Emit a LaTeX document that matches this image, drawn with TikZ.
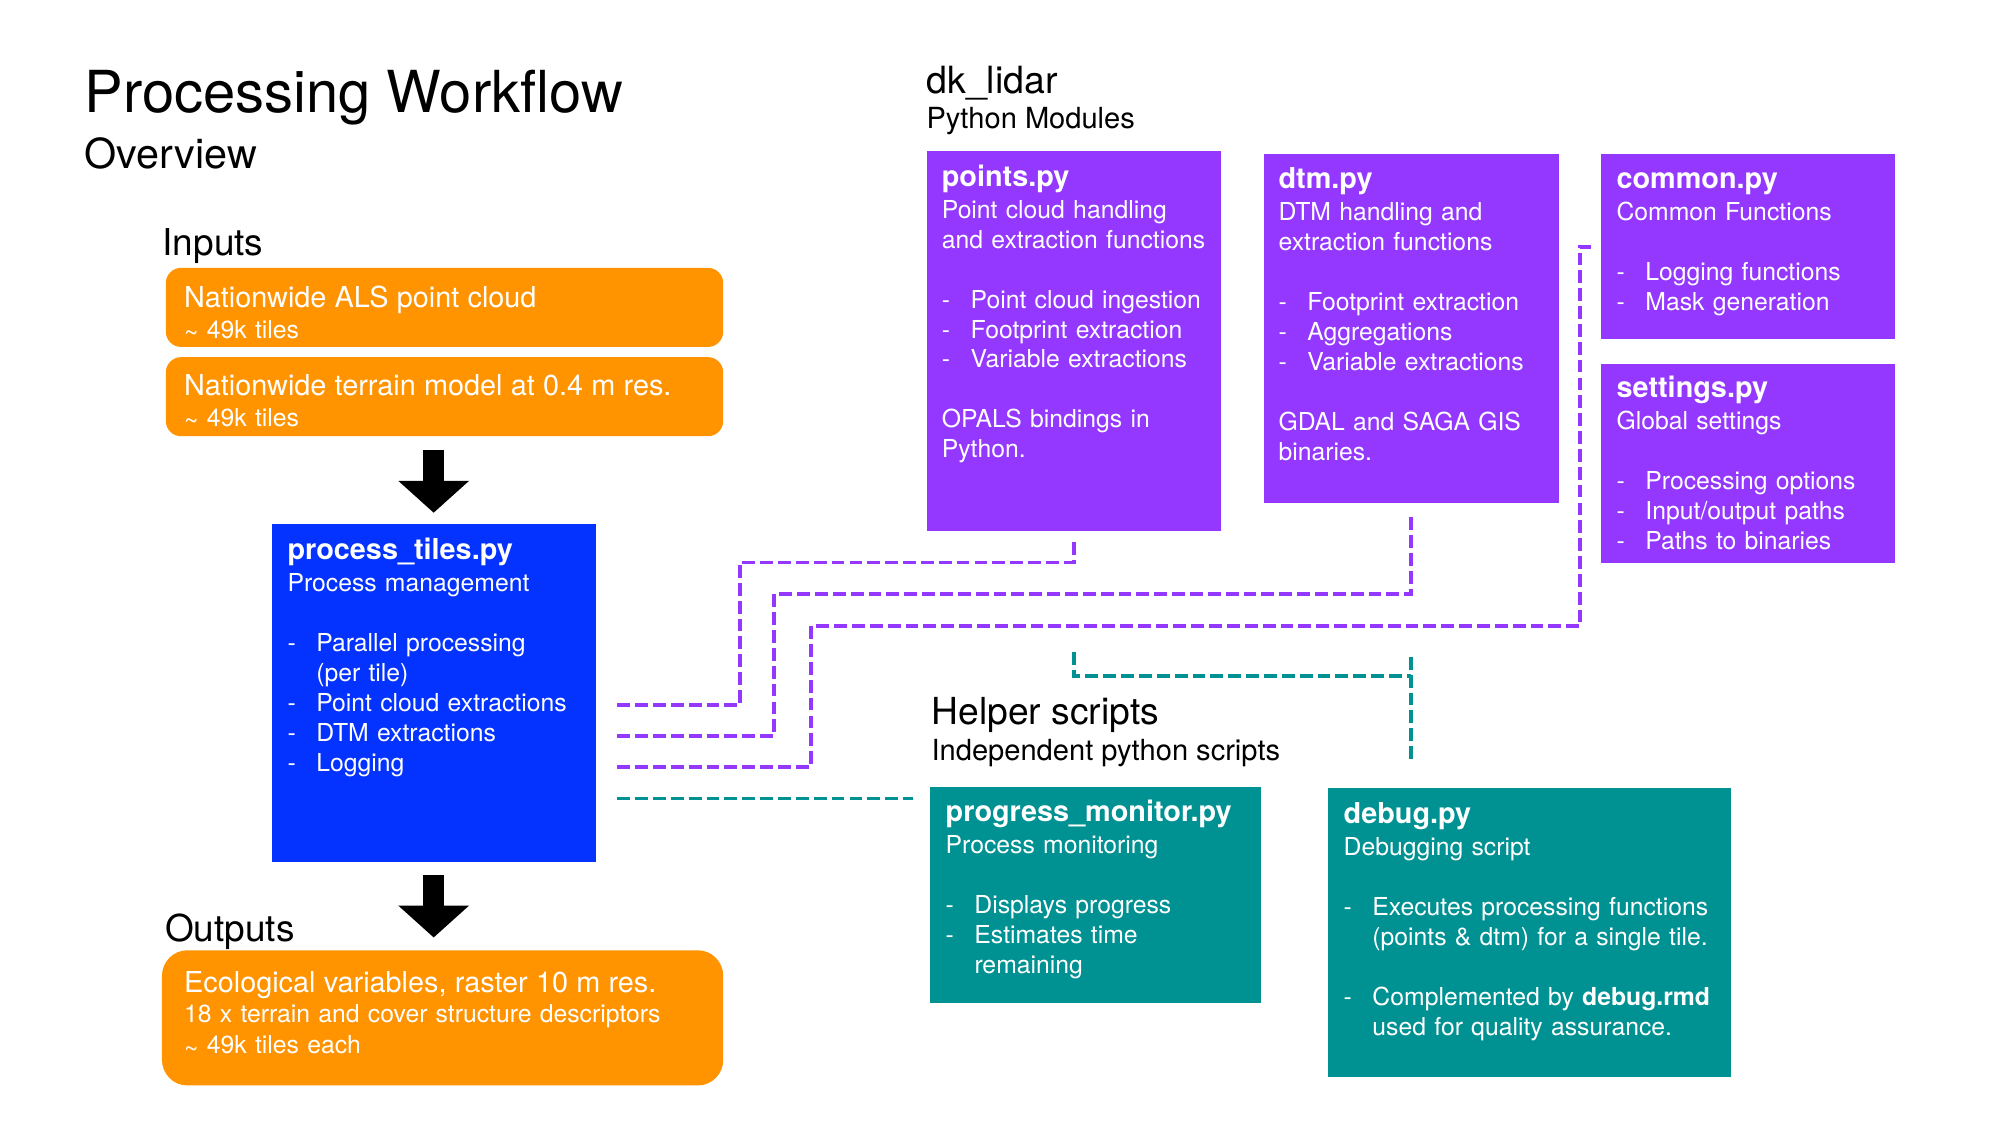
\documentclass[tikz,border=0pt]{standalone}
\usepackage{fontspec}
\setmainfont{TeX Gyre Heros}
\usetikzlibrary{arrows.meta}

\definecolor{iorange}{RGB}{255,147,0}
\definecolor{tilesblue}{RGB}{4,51,255}
\definecolor{modpurple}{RGB}{148,55,255}
\definecolor{helpteal}{RGB}{0,145,147}

\newcommand{\itm}{\makebox[11.3pt][l]{-}}
\newcommand{\ind}{\hspace*{11.3pt}}
\newcommand{\approxt}{\raisebox{-0.3ex}{\textasciitilde}}
\newcommand{\boxtitle}[1]{{\fontsize{11.3}{12}\selectfont\bfseries #1}}

\tikzset{
  box/.style={anchor=north west, inner sep=0pt, outer sep=0pt},
  inbox/.style={box, fill=iorange, rounded corners=6pt},
  modbox/.style={box, fill=modpurple},
  helpbox/.style={box, fill=helpteal},
  boxtext/.style={anchor=base west, inner sep=0pt, text=white, align=left,
    text width=200pt, font=\fontsize{9.7}{11.75}\selectfont},
  iotext/.style={boxtext, font=\fontsize{9.7}{12}\selectfont},
  heading/.style={anchor=base west, inner sep=0pt},
  blockarr/.style={line width=8pt, -{Triangle[length=12.5pt,width=27pt]}},
  moddash/.style={modpurple, line width=1.5pt, dash pattern=on 5pt off 2pt},
  helpdash/.style={helpteal, line width=1.5pt, dash pattern=on 5pt off 2pt}
}

\begin{document}
\begin{tikzpicture}[x=0.5pt,y=-0.5pt]
  \useasboundingbox (0,0) rectangle (1568,882);

  % headings
  \node[heading, font=\fontsize{22.7}{27}\selectfont] (title) at (66,88) {Processing Workflow};
  \node[heading, font=\fontsize{16.2}{19}\selectfont] (overview) at (66,132) {Overview};
  \node[heading, font=\fontsize{14.5}{17}\selectfont] (inlabel) at (127,200) {Inputs};
  \node[heading, font=\fontsize{14.5}{17}\selectfont] (outlabel) at (129,738) {Outputs};
  \node[heading, font=\fontsize{14.7}{17}\selectfont] (pkg) at (726,73) {dk\_lidar};
  \node[heading, font=\fontsize{11.4}{14}\selectfont] (pkgsub) at (726,101) {Python Modules};
  \node[heading, font=\fontsize{14.6}{17}\selectfont] (helper) at (730,568) {Helper scripts};
  \node[heading, font=\fontsize{11.4}{14}\selectfont] (helpersub) at (730,596) {Independent python scripts};

  % inputs and outputs
  \node[inbox, minimum width=218.5pt, minimum height=31pt] (inputs1) at (130,210) {};
  \node[iotext] (inputs1-txt) at ([shift={(14,31)}]inputs1.north west)
    {{\fontsize{11.3}{12}\selectfont Nationwide ALS point cloud}\\ \approxt{} 49k tiles};
  \node[inbox, minimum width=218.5pt, minimum height=31pt] (inputs2) at (130,280) {};
  \node[iotext] (inputs2-txt) at ([shift={(14,30)}]inputs2.north west)
    {{\fontsize{11.3}{12}\selectfont Nationwide terrain model at 0.4 m res.}\\ \approxt{} 49k tiles};
  \node[inbox, rounded corners=10pt, minimum width=220pt, minimum height=53pt] (outputs) at (127,745) {};
  \node[iotext] (outputs-txt) at ([shift={(17,33)}]outputs.north west)
    {{\fontsize{11.3}{12}\selectfont Ecological variables, raster 10 m res.}\\
     18 x terrain and cover structure descriptors\\ \approxt{} 49k tiles each};

  % process management
  \node[box, fill=tilesblue, minimum width=127pt, minimum height=132.5pt] (tiles) at (213,411) {};
  \node[boxtext] (tiles-txt) at ([shift={(12,28)}]tiles.north west)
    {\boxtitle{process\_tiles.py}\\[0.75pt] Process management\\[11.75pt]
     \itm Parallel processing\\ \ind(per tile)\\ \itm Point cloud extractions\\
     \itm DTM extractions\\ \itm Logging};

  \draw[blockarr] ([yshift=-5.5pt]tiles.north |- inputs2.south) -- ([yshift=4.5pt]tiles.north);
  \draw[blockarr] ([yshift=-5pt]tiles.south) -- ([yshift=5pt]tiles.south |- outputs.north);

  % python modules
  \node[modbox, minimum width=115pt, minimum height=149pt] (points) at (727,118) {};
  \node[boxtext] (points-txt) at ([shift={(11,28)}]points.north west)
    {\boxtitle{points.py}\\[0.75pt] Point cloud handling\\ and extraction functions\\[11.75pt]
     \itm Point cloud ingestion\\ \itm Footprint extraction\\ \itm Variable extractions\\[11.75pt]
     OPALS bindings in\\ Python.};
  \node[modbox, minimum width=115.5pt, minimum height=136.5pt] (dtm) at (991,121) {};
  \node[boxtext] (dtm-txt) at ([shift={(11,27)}]dtm.north west)
    {\boxtitle{dtm.py}\\[0.75pt] DTM handling and\\ extraction functions\\[11.75pt]
     \itm Footprint extraction\\ \itm Aggregations\\ \itm Variable extractions\\[11.75pt]
     GDAL and SAGA GIS\\ binaries.};
  \node[modbox, minimum width=115.5pt, minimum height=72.5pt] (common) at (1255,121) {};
  \node[boxtext] (common-txt) at ([shift={(12,27)}]common.north west)
    {\boxtitle{common.py}\\[0.75pt] Common Functions\\[11.75pt]
     \itm Logging functions\\ \itm Mask generation};
  \node[modbox, minimum width=115.5pt, minimum height=78pt] (settings) at (1255,285) {};
  \node[boxtext] (settings-txt) at ([shift={(12,27)}]settings.north west)
    {\boxtitle{settings.py}\\[0.75pt] Global settings\\[11.75pt]
     \itm Processing options\\ \itm Input/output paths\\ \itm Paths to binaries};

  % helper scripts
  \node[helpbox, minimum width=130pt, minimum height=84.5pt] (progress) at (729,617) {};
  \node[boxtext] (progress-txt) at ([shift={(12,27)}]progress.north west)
    {\boxtitle{progress\_monitor.py}\\[0.75pt] Process monitoring\\[11.75pt]
     \itm Displays progress\\ \itm Estimates time\\ \ind remaining};
  \node[helpbox, minimum width=158pt, minimum height=113pt] (debug) at (1041,618) {};
  \node[boxtext] (debug-txt) at ([shift={(12,28)}]debug.north west)
    {\boxtitle{debug.py}\\[0.75pt] Debugging script\\[11.75pt]
     \itm Executes processing functions\\ \ind(points \& dtm) for a single tile.\\[11.75pt]
     \itm Complemented by \textbf{debug.rmd}\\ \ind used for quality assurance.};

  % dependencies
  \coordinate (pc-out) at (484,553);
  \coordinate (dtm-out) at (484,577);
  \coordinate (log-out) at (484,601);
  \coordinate (mon-out) at (484,626);
  \coordinate (dbg-pts) at ([yshift=-47.5pt]points.south);
  \coordinate (dbg-dtm) at ([yshift=-60.5pt]dtm.south);

  \draw[moddash] (pc-out) -| ++(96,-112) -| ([yshift=-4.5pt]points.south);
  \draw[moddash] (dtm-out) -| ++(123,-111) -| ([yshift=-5.5pt]dtm.south);
  \draw[moddash] (log-out) -| ++(152,-110) -- ++(603,0) |- ([xshift=-4pt]common.west);
  \draw[helpdash] (mon-out) -- ([xshift=-6.5pt]progress.west |- mon-out);
  \draw[helpdash] (dbg-pts) -- ++(0,19) -- ++(264,0);
  \draw[helpdash] (dbg-dtm) -- ([yshift=10pt]debug.north -| dbg-dtm);
\end{tikzpicture}
\end{document}
